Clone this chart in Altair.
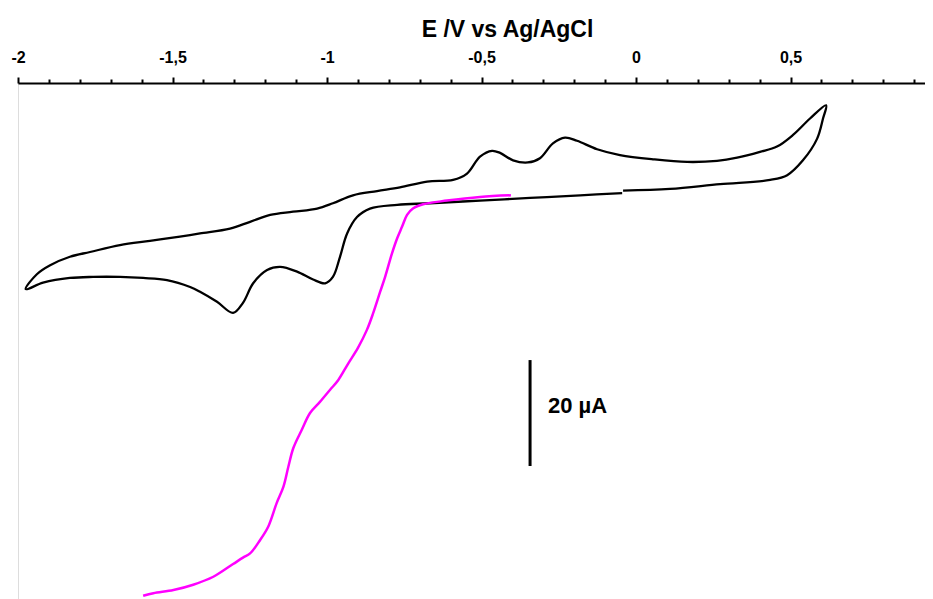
import altair as alt
import pandas as pd

# Cyclic voltammogram (black): E in V vs Ag/AgCl, I in µA
cv_E = [-0.045, -0.181, -0.343, -0.505, -0.667, -0.773, -0.861, -0.903, -0.935, -0.958,
        -0.981, -1.006, -1.045, -1.097, -1.152, -1.194, -1.239, -1.272, -1.304, -1.356,
        -1.411, -1.443, -1.518, -1.595, -1.670, -1.757, -1.832, -1.919, -1.975,
        -1.939, -1.896, -1.832, -1.767, -1.670, -1.573, -1.476, -1.411, -1.314, -1.249,
        -1.184, -1.110, -1.032, -0.981, -0.916, -0.838, -0.764, -0.676, -0.592, -0.547,
        -0.505, -0.466, -0.440, -0.398, -0.350, -0.311, -0.269, -0.230, -0.191, -0.126,
        -0.052, 0.055, 0.165, 0.262, 0.327, 0.401, 0.456, 0.508, 0.563, 0.615,
        0.605, 0.586, 0.540, 0.489, 0.434, 0.272, 0.110, -0.042]
cv_I = [1.3, 0.9, 0.4, -0.1, -0.6, -0.9, -1.6, -3.2, -6.3, -10.7,
        -14.5, -15.7, -15.0, -13.5, -12.6, -13.2, -15.7, -19.4, -21.3, -19.2,
        -17.3, -16.4, -15.1, -14.7, -14.5, -14.5, -14.7, -15.6, -16.8,
        -14.0, -12.3, -10.7, -9.8, -8.5, -7.7, -6.9, -6.3, -5.4, -4.1,
        -2.8, -2.2, -1.6, -0.6, 0.9, 1.7, 2.4, 3.5, 3.8, 5.0,
        8.2, 9.3, 8.9, 7.5, 7.1, 7.9, 10.7, 11.8, 11.2, 9.6,
        8.5, 7.7, 7.2, 7.4, 8.0, 9.1, 10.1, 12.3, 15.4, 17.9,
        15.4, 11.6, 7.5, 4.7, 3.8, 3.0, 2.1, 1.8]

# Linear sweep voltammogram (magenta)
lsv_E = [-0.405, -0.505, -0.612, -0.689, -0.722, -0.741, -0.757, -0.773, -0.790, -0.812,
         -0.828, -0.851, -0.871, -0.900, -0.932, -0.964, -0.990, -1.023, -1.055, -1.082,
         -1.109, -1.125, -1.141, -1.163, -1.190, -1.217, -1.249, -1.272, -1.304, -1.368,
         -1.433, -1.497, -1.562, -1.595]
lsv_I = [0.9, 0.6, -0.1, -0.8, -1.6, -2.8, -5.0, -7.2, -10.1, -14.5,
         -17.3, -21.4, -24.5, -27.9, -30.9, -34.0, -35.8, -38.1, -40.2, -43.4,
         -46.8, -50.3, -54.1, -57.2, -61.6, -64.2, -66.7, -67.5, -68.7, -71.1,
         -72.6, -73.6, -74.2, -74.7]

# Axis ticks
minor_ticks = [-2.0, -1.9, -1.8, -1.7, -1.6, -1.5, -1.4, -1.3, -1.2, -1.1,
               -1.0, -0.9, -0.8, -0.7, -0.6, -0.5, -0.4, -0.3, -0.2, -0.1,
               0.0, 0.1, 0.2, 0.3, 0.4, 0.5, 0.6, 0.7, 0.8, 0.9]

# Scale bar (20 µA)
bar_E = [-0.343]
bar_I1 = [-30.2]
bar_I2 = [-50.2]
bar_label = ["20 µA"]
label_E = [-0.285]
label_I = [-38.9]

cv = pd.DataFrame({"E": cv_E, "I": cv_I, "k": list(range(len(cv_E)))})
lsv = pd.DataFrame({"E": lsv_E, "I": lsv_I, "k": list(range(len(lsv_E)))})
bar = pd.DataFrame({"E": bar_E, "I1": bar_I1, "I2": bar_I2})
lab = pd.DataFrame({"E": label_E, "I": label_I, "t": bar_label})

is_major = "abs(datum.value*2 - round(datum.value*2)) < 0.001"

xscale = alt.Scale(domain=[-2.0, 0.935], nice=False, zero=False)
yscale = alt.Scale(domain=[-75.3, 22.1], nice=False, zero=False)

xaxis = alt.Axis(
    orient="top",
    values=minor_ticks,
    labelExpr=f"{is_major} ? replace(toString(datum.value), '.', ',') : ''",
    tickSize={"condition": {"test": is_major, "value": 6}, "value": 4},
    tickWidth=2,
    tickColor="black",
    domainWidth=2,
    domainColor="black",
    grid=False,
    labelFont="Liberation Sans",
    labelFontSize=16,
    labelFontWeight="bold",
    labelColor="black",
    labelPadding=12,
    labelOverlap=False,
    labelFlush=False,
    labelBound=False,
    title="E /V vs Ag/AgCl",
    titleFont="Liberation Sans",
    titleFontSize=23,
    titleFontWeight="bold",
    titleColor="black",
    titleX=489,
    titleY=-47,
    titleAlign="center",
    titleBaseline="alphabetic",
)

X = alt.X("E:Q", scale=xscale, axis=xaxis)

cv_line = alt.Chart(cv).mark_line(color="black", strokeWidth=2.3, interpolate="catmull-rom").encode(
    x=X,
    y=alt.Y("I:Q", scale=yscale, axis=None),
    order="k:Q",
)

lsv_line = alt.Chart(lsv).mark_line(color="#FF00FF", strokeWidth=2.5, interpolate="catmull-rom").encode(
    x=X,
    y=alt.Y("I:Q", scale=yscale, axis=None),
    order="k:Q",
)

bar_rule = alt.Chart(bar).mark_rule(color="black", strokeWidth=3).encode(
    x=X,
    y=alt.Y("I1:Q", scale=yscale, axis=None),
    y2="I2:Q",
)

bar_text = alt.Chart(lab).mark_text(
    align="left", baseline="middle", font="Liberation Sans", fontSize=22,
    fontWeight="bold", color="black",
).encode(
    x=X,
    y=alt.Y("I:Q", scale=yscale, axis=None),
    text="t:N",
)

chart = alt.layer(cv_line, lsv_line, bar_rule, bar_text).properties(
    width=907,
    height=516,
    autosize=alt.AutoSizeParams(type="none"),
    padding={"left": 10, "top": 75, "right": 0, "bottom": 0},
).configure_view(
    stroke="white", strokeWidth=0, strokeOpacity=0, fillOpacity=0
).configure_axis(
    grid=False, gridOpacity=0
).configure_axisY(
    disable=True, domain=False, ticks=False, labels=False, grid=False
).configure_axisLeft(
    domain=False, ticks=False, labels=False, grid=False
).configure(background="white")

chart.save("out.html", embed_options={"renderer": "svg", "actions": False})
